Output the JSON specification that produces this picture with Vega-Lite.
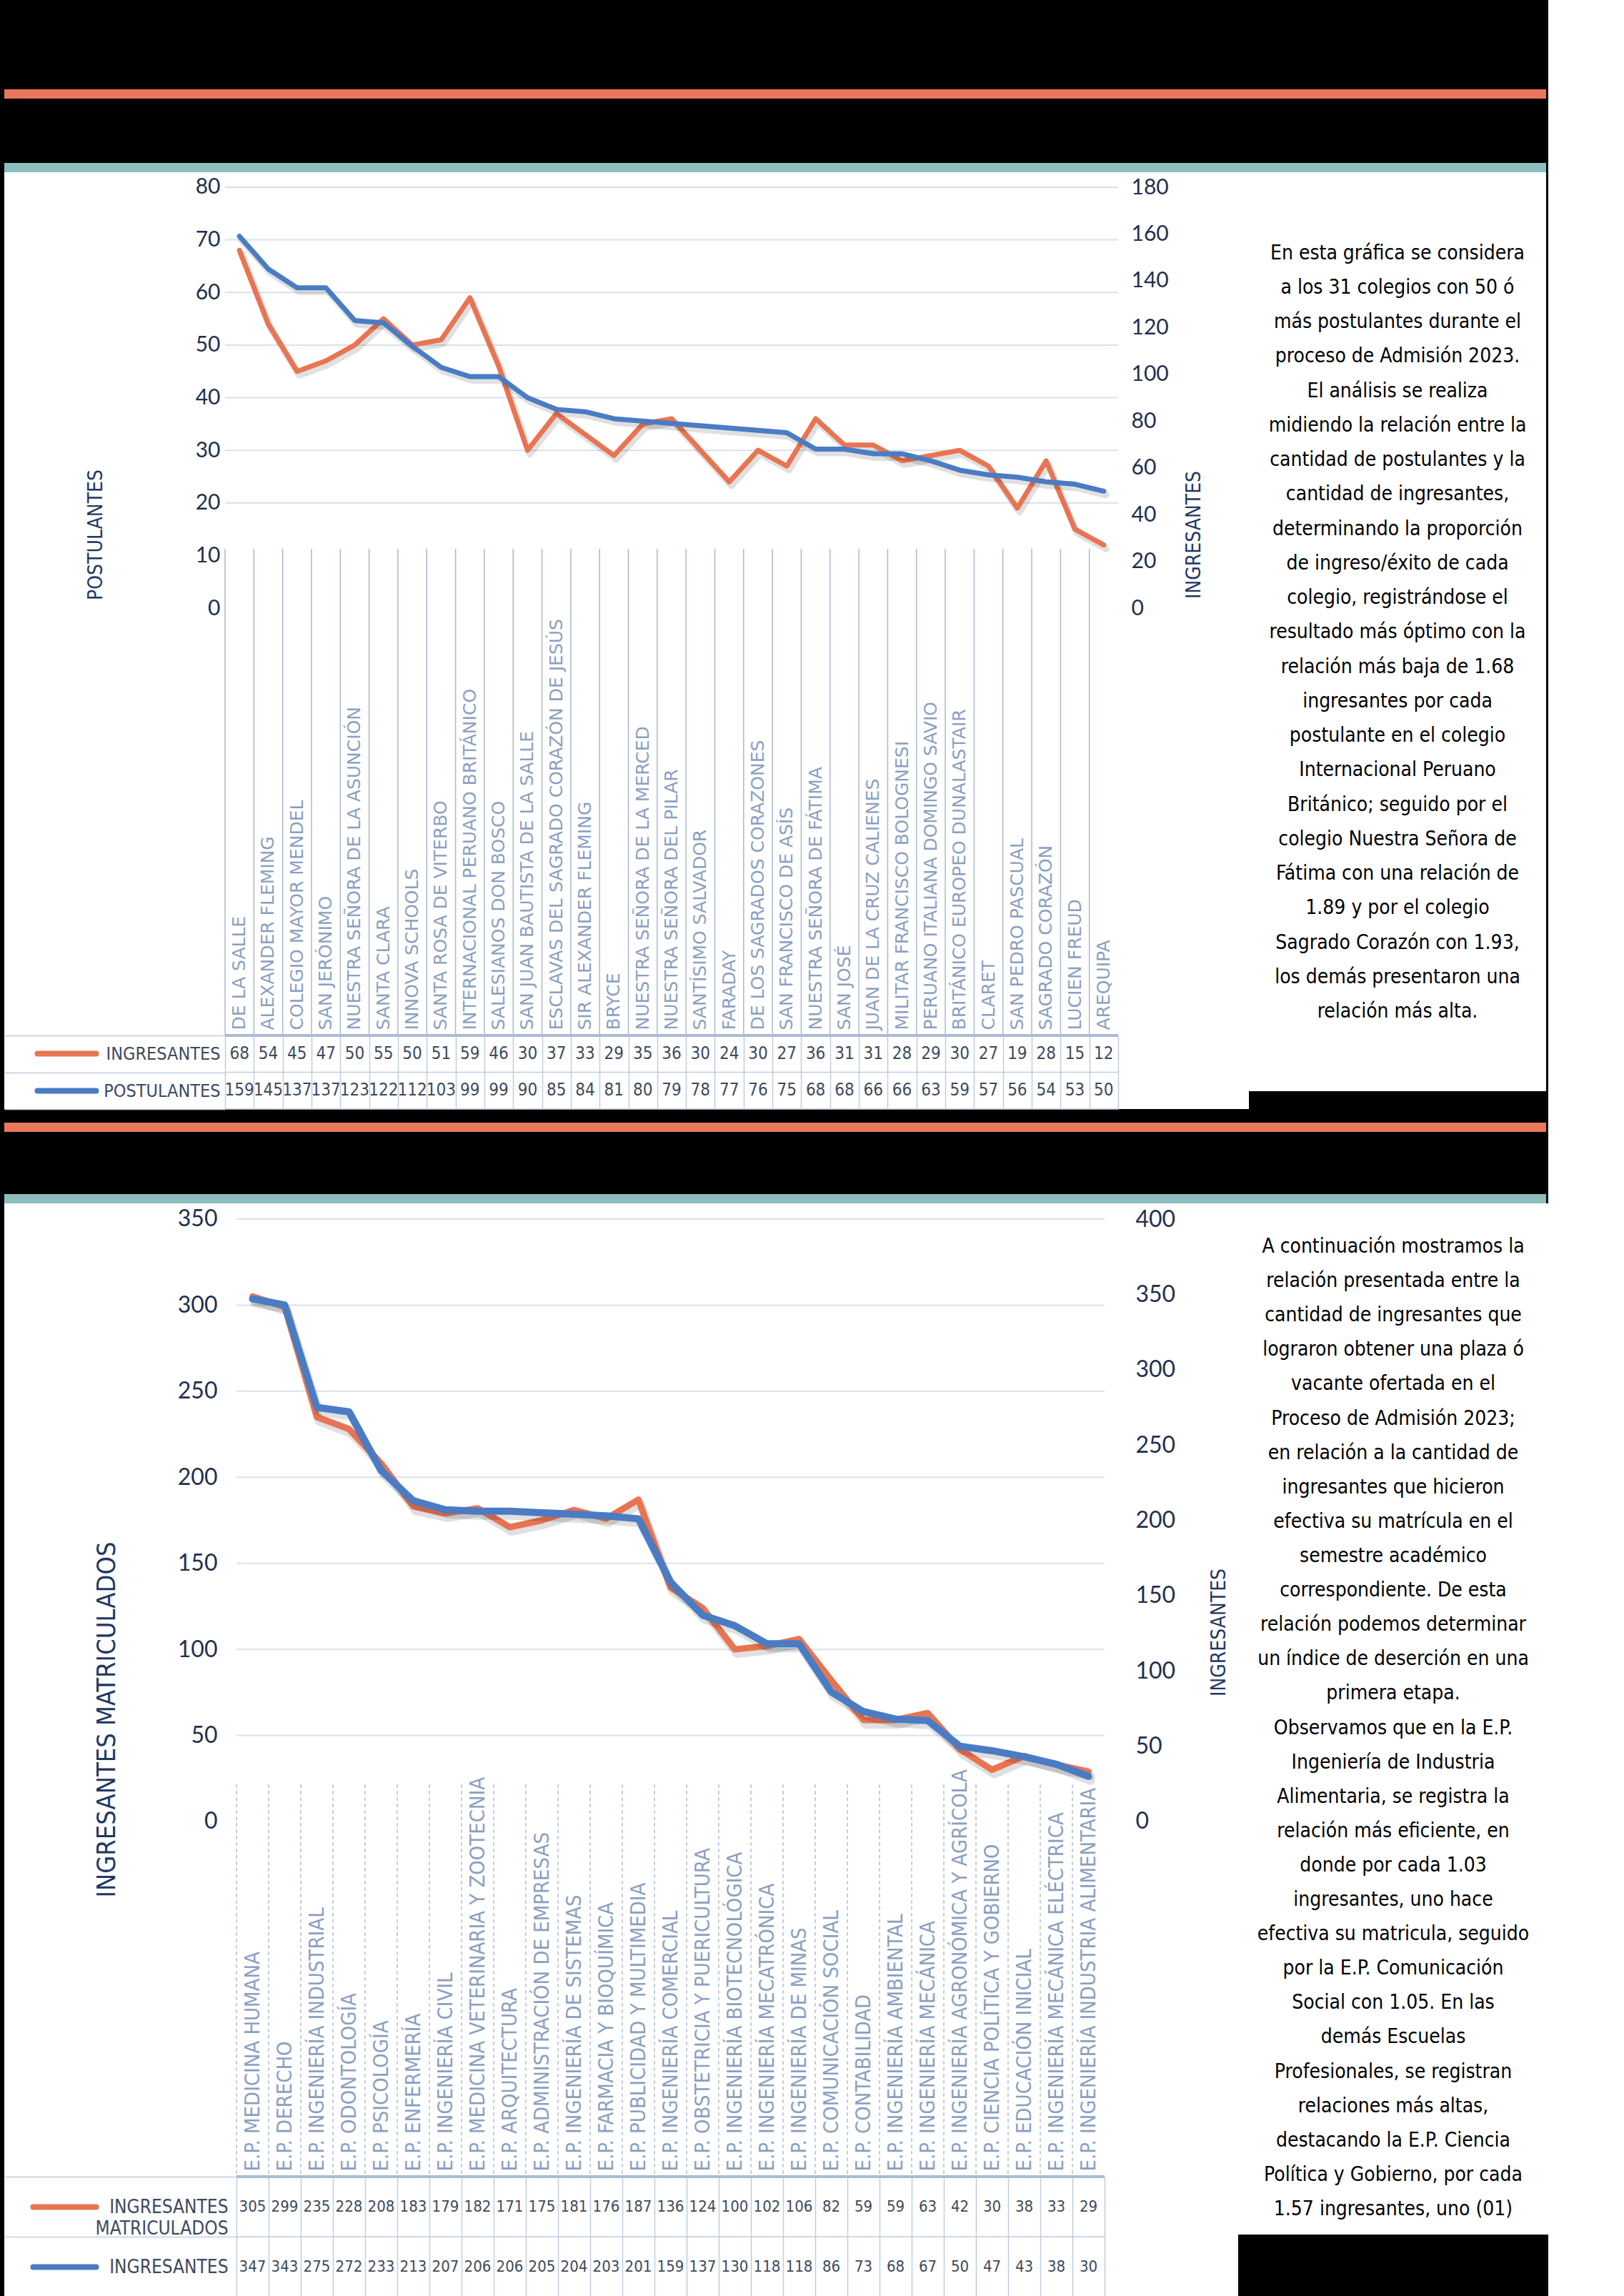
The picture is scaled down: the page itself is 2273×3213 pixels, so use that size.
{
  "$schema": "https://vega.github.io/schema/vega-lite/v6.json",
  "background": "#000000",
  "padding": {"left": 5, "top": 0, "right": 0, "bottom": 0},
  "config": {"view": {"stroke": null}, "concat": {"spacing": 0}, "axis": {"labelFontWeight": "normal"}},
  "datasets": {
    "c1": [
      {"colegio": "DE LA SALLE", "INGRESANTES": 68, "POSTULANTES": 159},
      {"colegio": "ALEXANDER FLEMING", "INGRESANTES": 54, "POSTULANTES": 145},
      {"colegio": "COLEGIO MAYOR MENDEL", "INGRESANTES": 45, "POSTULANTES": 137},
      {"colegio": "SAN JERÓNIMO", "INGRESANTES": 47, "POSTULANTES": 137},
      {"colegio": "NUESTRA SEÑORA DE LA ASUNCIÓN", "INGRESANTES": 50, "POSTULANTES": 123},
      {"colegio": "SANTA CLARA", "INGRESANTES": 55, "POSTULANTES": 122},
      {"colegio": "INNOVA SCHOOLS", "INGRESANTES": 50, "POSTULANTES": 112},
      {"colegio": "SANTA ROSA DE VITERBO", "INGRESANTES": 51, "POSTULANTES": 103},
      {"colegio": "INTERNACIONAL PERUANO BRITÁNICO", "INGRESANTES": 59, "POSTULANTES": 99},
      {"colegio": "SALESIANOS DON BOSCO", "INGRESANTES": 46, "POSTULANTES": 99},
      {"colegio": "SAN JUAN BAUTISTA DE LA SALLE", "INGRESANTES": 30, "POSTULANTES": 90},
      {"colegio": "ESCLAVAS DEL SAGRADO CORAZÓN DE JESÚS", "INGRESANTES": 37, "POSTULANTES": 85},
      {"colegio": "SIR ALEXANDER FLEMING", "INGRESANTES": 33, "POSTULANTES": 84},
      {"colegio": "BRYCE", "INGRESANTES": 29, "POSTULANTES": 81},
      {"colegio": "NUESTRA SEÑORA DE LA MERCED", "INGRESANTES": 35, "POSTULANTES": 80},
      {"colegio": "NUESTRA SEÑORA DEL PILAR", "INGRESANTES": 36, "POSTULANTES": 79},
      {"colegio": "SANTÍSIMO SALVADOR", "INGRESANTES": 30, "POSTULANTES": 78},
      {"colegio": "FARADAY", "INGRESANTES": 24, "POSTULANTES": 77},
      {"colegio": "DE LOS SAGRADOS CORAZONES", "INGRESANTES": 30, "POSTULANTES": 76},
      {"colegio": "SAN FRANCISCO DE ASÍS", "INGRESANTES": 27, "POSTULANTES": 75},
      {"colegio": "NUESTRA SEÑORA DE FÁTIMA", "INGRESANTES": 36, "POSTULANTES": 68},
      {"colegio": "SAN JOSÉ", "INGRESANTES": 31, "POSTULANTES": 68},
      {"colegio": "JUAN DE LA CRUZ CALIENES", "INGRESANTES": 31, "POSTULANTES": 66},
      {"colegio": "MILITAR FRANCISCO BOLOGNESI", "INGRESANTES": 28, "POSTULANTES": 66},
      {"colegio": "PERUANO ITALIANA DOMINGO SAVIO", "INGRESANTES": 29, "POSTULANTES": 63},
      {"colegio": "BRITÁNICO EUROPEO DUNALASTAIR", "INGRESANTES": 30, "POSTULANTES": 59},
      {"colegio": "CLARET", "INGRESANTES": 27, "POSTULANTES": 57},
      {"colegio": "SAN PEDRO PASCUAL", "INGRESANTES": 19, "POSTULANTES": 56},
      {"colegio": "SAGRADO CORAZÓN", "INGRESANTES": 28, "POSTULANTES": 54},
      {"colegio": "LUCIEN FREUD", "INGRESANTES": 15, "POSTULANTES": 53},
      {"colegio": "AREQUIPA", "INGRESANTES": 12, "POSTULANTES": 50}
    ],
    "c2": [
      {"escuela": "E.P. MEDICINA HUMANA", "INGRESANTES MATRICULADOS": 305, "INGRESANTES": 347},
      {"escuela": "E.P. DERECHO", "INGRESANTES MATRICULADOS": 299, "INGRESANTES": 343},
      {"escuela": "E.P. INGENIERÍA INDUSTRIAL", "INGRESANTES MATRICULADOS": 235, "INGRESANTES": 275},
      {"escuela": "E.P. ODONTOLOGÍA", "INGRESANTES MATRICULADOS": 228, "INGRESANTES": 272},
      {"escuela": "E.P. PSICOLOGÍA", "INGRESANTES MATRICULADOS": 208, "INGRESANTES": 233},
      {"escuela": "E.P. ENFERMERÍA", "INGRESANTES MATRICULADOS": 183, "INGRESANTES": 213},
      {"escuela": "E.P. INGENIERÍA CIVIL", "INGRESANTES MATRICULADOS": 179, "INGRESANTES": 207},
      {"escuela": "E.P. MEDICINA VETERINARIA Y ZOOTECNIA", "INGRESANTES MATRICULADOS": 182, "INGRESANTES": 206},
      {"escuela": "E.P. ARQUITECTURA", "INGRESANTES MATRICULADOS": 171, "INGRESANTES": 206},
      {"escuela": "E.P. ADMINISTRACIÓN DE EMPRESAS", "INGRESANTES MATRICULADOS": 175, "INGRESANTES": 205},
      {"escuela": "E.P. INGENIERÍA DE SISTEMAS", "INGRESANTES MATRICULADOS": 181, "INGRESANTES": 204},
      {"escuela": "E.P. FARMACIA Y BIOQUÍMICA", "INGRESANTES MATRICULADOS": 176, "INGRESANTES": 203},
      {"escuela": "E.P. PUBLICIDAD Y MULTIMEDIA", "INGRESANTES MATRICULADOS": 187, "INGRESANTES": 201},
      {"escuela": "E.P. INGENIERÍA COMERCIAL", "INGRESANTES MATRICULADOS": 136, "INGRESANTES": 159},
      {"escuela": "E.P. OBSTETRICIA Y PUERICULTURA", "INGRESANTES MATRICULADOS": 124, "INGRESANTES": 137},
      {"escuela": "E.P. INGENIERÍA BIOTECNOLÓGICA", "INGRESANTES MATRICULADOS": 100, "INGRESANTES": 130},
      {"escuela": "E.P. INGENIERÍA MECATRÓNICA", "INGRESANTES MATRICULADOS": 102, "INGRESANTES": 118},
      {"escuela": "E.P. INGENIERÍA DE MINAS", "INGRESANTES MATRICULADOS": 106, "INGRESANTES": 118},
      {"escuela": "E.P. COMUNICACIÓN SOCIAL", "INGRESANTES MATRICULADOS": 82, "INGRESANTES": 86},
      {"escuela": "E.P. CONTABILIDAD", "INGRESANTES MATRICULADOS": 59, "INGRESANTES": 73},
      {"escuela": "E.P. INGENIERÍA AMBIENTAL", "INGRESANTES MATRICULADOS": 59, "INGRESANTES": 68},
      {"escuela": "E.P. INGENIERÍA MECÁNICA", "INGRESANTES MATRICULADOS": 63, "INGRESANTES": 67},
      {"escuela": "E.P. INGENIERÍA AGRONÓMICA Y AGRÍCOLA", "INGRESANTES MATRICULADOS": 42, "INGRESANTES": 50},
      {"escuela": "E.P. CIENCIA POLÍTICA Y GOBIERNO", "INGRESANTES MATRICULADOS": 30, "INGRESANTES": 47},
      {"escuela": "E.P. EDUCACIÓN INICIAL", "INGRESANTES MATRICULADOS": 38, "INGRESANTES": 43},
      {"escuela": "E.P. INGENIERÍA MECÁNICA ELÉCTRICA", "INGRESANTES MATRICULADOS": 33, "INGRESANTES": 38},
      {"escuela": "E.P. INGENIERÍA INDUSTRIA ALIMENTARIA", "INGRESANTES MATRICULADOS": 29, "INGRESANTES": 30}
    ],
    "t1": [
      {"n": 1, "t": "En esta gráfica se considera"},
      {"n": 2, "t": "a los 31 colegios con 50 ó"},
      {"n": 3, "t": "más postulantes durante el"},
      {"n": 4, "t": "proceso de Admisión 2023."},
      {"n": 5, "t": "El análisis se realiza"},
      {"n": 6, "t": "midiendo la relación entre la"},
      {"n": 7, "t": "cantidad de postulantes y la"},
      {"n": 8, "t": "cantidad de ingresantes,"},
      {"n": 9, "t": "determinando la proporción"},
      {"n": 10, "t": "de ingreso/éxito de cada"},
      {"n": 11, "t": "colegio, registrándose el"},
      {"n": 12, "t": "resultado más óptimo con la"},
      {"n": 13, "t": "relación más baja de 1.68"},
      {"n": 14, "t": "ingresantes por cada"},
      {"n": 15, "t": "postulante en el colegio"},
      {"n": 16, "t": "Internacional Peruano"},
      {"n": 17, "t": "Británico; seguido por el"},
      {"n": 18, "t": "colegio Nuestra Señora de"},
      {"n": 19, "t": "Fátima con una relación de"},
      {"n": 20, "t": "1.89 y por el colegio"},
      {"n": 21, "t": "Sagrado Corazón con 1.93,"},
      {"n": 22, "t": "los demás presentaron una"},
      {"n": 23, "t": "relación más alta."}
    ],
    "t2": [
      {"n": 1, "t": "A continuación mostramos la"},
      {"n": 2, "t": "relación presentada entre la"},
      {"n": 3, "t": "cantidad de ingresantes que"},
      {"n": 4, "t": "lograron obtener una plaza ó"},
      {"n": 5, "t": "vacante ofertada en el"},
      {"n": 6, "t": "Proceso de Admisión 2023;"},
      {"n": 7, "t": "en relación a la cantidad de"},
      {"n": 8, "t": "ingresantes que hicieron"},
      {"n": 9, "t": "efectiva su matrícula en el"},
      {"n": 10, "t": "semestre académico"},
      {"n": 11, "t": "correspondiente. De esta"},
      {"n": 12, "t": "relación podemos determinar"},
      {"n": 13, "t": "un índice de deserción en una"},
      {"n": 14, "t": "primera etapa."},
      {"n": 15, "t": "Observamos que en la E.P."},
      {"n": 16, "t": "Ingeniería de Industria"},
      {"n": 17, "t": "Alimentaria, se registra la"},
      {"n": 18, "t": "relación más eficiente, en"},
      {"n": 19, "t": "donde por cada 1.03"},
      {"n": 20, "t": "ingresantes, uno hace"},
      {"n": 21, "t": "efectiva su matricula, seguido"},
      {"n": 22, "t": "por la E.P. Comunicación"},
      {"n": 23, "t": "Social con 1.05. En las"},
      {"n": 24, "t": "demás Escuelas"},
      {"n": 25, "t": "Profesionales, se registran"},
      {"n": 26, "t": "relaciones más altas,"},
      {"n": 27, "t": "destacando la E.P. Ciencia"},
      {"n": 28, "t": "Política y Gobierno, por cada"},
      {"n": 29, "t": "1.57 ingresantes, uno (01)"}
    ]
  },
  "spacing": 0,
  "vconcat": [
    {"width": 2158, "height": 125, "data": {"values": []}, "mark": "text", "encoding": {}},
    {"width": 2158, "height": 13, "view": {"fill": "#E8775C", "stroke": null}, "data": {"values": []}, "mark": "text", "encoding": {}},
    {"width": 2158, "height": 90, "data": {"values": []}, "mark": "text", "encoding": {}},
    {"width": 2158, "height": 13, "view": {"fill": "#8DBFBE", "stroke": null}, "data": {"values": []}, "mark": "text", "encoding": {}},
    {
      "spacing": 0,
      "hconcat": [
        {
          "spacing": 0, "bounds": "flush",
          "vconcat": [
            {
              "width": 1742, "height": 1208,
              "view": {"fill": "#FFFFFF", "stroke": null},
              "data": {"name": "c1"},
              "encoding": {
                "x": {"field": "colegio", "type": "nominal", "sort": null,
                  "scale": {"type": "band", "domain": ["DE LA SALLE", "ALEXANDER FLEMING", "COLEGIO MAYOR MENDEL", "SAN JERÓNIMO", "NUESTRA SEÑORA DE LA ASUNCIÓN", "SANTA CLARA", "INNOVA SCHOOLS", "SANTA ROSA DE VITERBO", "INTERNACIONAL PERUANO BRITÁNICO", "SALESIANOS DON BOSCO", "SAN JUAN BAUTISTA DE LA SALLE", "ESCLAVAS DEL SAGRADO CORAZÓN DE JESÚS", "SIR ALEXANDER FLEMING", "BRYCE", "NUESTRA SEÑORA DE LA MERCED", "NUESTRA SEÑORA DEL PILAR", "SANTÍSIMO SALVADOR", "FARADAY", "DE LOS SAGRADOS CORAZONES", "SAN FRANCISCO DE ASÍS", "NUESTRA SEÑORA DE FÁTIMA", "SAN JOSÉ", "JUAN DE LA CRUZ CALIENES", "MILITAR FRANCISCO BOLOGNESI", "PERUANO ITALIANA DOMINGO SAVIO", "BRITÁNICO EUROPEO DUNALASTAIR", "CLARET", "SAN PEDRO PASCUAL", "SAGRADO CORAZÓN", "LUCIEN FREUD", "AREQUIPA"], "range": [309, 1559], "paddingInner": 0, "paddingOuter": 0, "round": false},
                  "axis": {"title": null, "orient": "bottom", "domain": false, "ticks": false, "grid": false, "labelAngle": 270, "labelAlign": "left", "labelBaseline": "middle", "labelPadding": -8, "labelLimit": 0, "labelOverlap": false, "labelFont": "DejaVu Sans", "labelFontSize": 25, "labelColor": "#8AA0C2"}
                }
              },
              "layer": [
                {
                  "layer": [
                    {
                      "data": {"values": [{"g": 20}, {"g": 30}, {"g": 40}, {"g": 50}, {"g": 60}, {"g": 70}, {"g": 80}]},
                      "mark": {"type": "rule", "color": "#D9E1EC", "strokeWidth": 2},
                      "encoding": {
                        "x": {"datum": "DE LA SALLE", "type": "nominal", "bandPosition": 0},
                        "x2": {"datum": "AREQUIPA", "bandPosition": 1},
                        "y": {"field": "g", "type": "quantitative"}
                      }
                    },
                    {
                      "mark": {"type": "rule", "color": "#A9B9CF", "strokeWidth": 1.5},
                      "encoding": {
                        "x": {"field": "colegio", "type": "nominal", "bandPosition": 0},
                        "y": {"datum": 11.27},
                        "y2": {"datum": -81.22}
                      }
                    },
                    {
                      "mark": {"type": "line", "color": "#000000", "opacity": 0.12, "strokeWidth": 10, "xOffset": 3, "yOffset": 5, "strokeJoin": "round", "strokeCap": "round"},
                      "encoding": {"y": {"field": "INGRESANTES", "type": "quantitative"}}
                    },
                    {
                      "mark": {"type": "line", "color": "#E97452", "strokeWidth": 7, "strokeJoin": "round", "strokeCap": "round"},
                      "encoding": {
                        "y": {"field": "INGRESANTES", "type": "quantitative",
                          "scale": {"domain": [-81.22, 82.852], "nice": false, "zero": false},
                          "axis": {"orient": "left", "offset": -309, "values": [0, 10, 20, 30, 40, 50, 60, 70, 80], "grid": false, "domain": false, "ticks": false, "tickSize": 0, "labelPadding": 7, "labelFont": "Lato", "labelFontSize": 30, "labelColor": "#1F2F4F", "title": "POSTULANTES", "titleFont": "Liberation Sans Narrow, DejaVu Sans Condensed, sans-serif", "titleFontSize": 28, "titleFontWeight": "normal", "titleColor": "#1F3864", "titleAngle": 270, "titleAlign": "center", "titleBaseline": "middle", "titleX": -181, "titleY": 507}
                        }
                      }
                    }
                  ]
                },
                {
                  "layer": [
                    {
                      "mark": {"type": "line", "color": "#000000", "opacity": 0.12, "strokeWidth": 10, "xOffset": 3, "yOffset": 5, "strokeJoin": "round", "strokeCap": "round"},
                      "encoding": {"y": {"field": "POSTULANTES", "type": "quantitative"}}
                    },
                    {
                      "mark": {"type": "line", "color": "#4A7CC4", "strokeWidth": 7, "strokeJoin": "round", "strokeCap": "round"},
                      "encoding": {
                        "y": {"field": "POSTULANTES", "type": "quantitative",
                          "scale": {"domain": [-182.75, 186.42], "nice": false, "zero": false},
                          "axis": {"orient": "right", "offset": -183, "values": [0, 20, 40, 60, 80, 100, 120, 140, 160, 180], "grid": false, "domain": false, "ticks": false, "tickSize": 0, "labelPadding": 18, "labelFont": "Lato", "labelFontSize": 30, "labelColor": "#1F2F4F", "title": "INGRESANTES", "titleFont": "Liberation Sans Narrow, DejaVu Sans Condensed, sans-serif", "titleFontSize": 28, "titleFontWeight": "normal", "titleColor": "#1F3864", "titleAngle": 270, "titleAlign": "center", "titleBaseline": "middle", "titleX": 106, "titleY": 507}
                        }
                      }
                    }
                  ]
                }
              ],
              "resolve": {"scale": {"y": "independent"}, "axis": {"y": "independent"}}
            },
            {
              "width": 1742, "height": 103,
              "view": {"fill": "#FFFFFF", "stroke": null},
              "data": {"name": "c1"},
              "encoding": {
                "x": {"field": "colegio", "type": "nominal", "sort": null,
                  "scale": {"type": "band", "domain": ["DE LA SALLE", "ALEXANDER FLEMING", "COLEGIO MAYOR MENDEL", "SAN JERÓNIMO", "NUESTRA SEÑORA DE LA ASUNCIÓN", "SANTA CLARA", "INNOVA SCHOOLS", "SANTA ROSA DE VITERBO", "INTERNACIONAL PERUANO BRITÁNICO", "SALESIANOS DON BOSCO", "SAN JUAN BAUTISTA DE LA SALLE", "ESCLAVAS DEL SAGRADO CORAZÓN DE JESÚS", "SIR ALEXANDER FLEMING", "BRYCE", "NUESTRA SEÑORA DE LA MERCED", "NUESTRA SEÑORA DEL PILAR", "SANTÍSIMO SALVADOR", "FARADAY", "DE LOS SAGRADOS CORAZONES", "SAN FRANCISCO DE ASÍS", "NUESTRA SEÑORA DE FÁTIMA", "SAN JOSÉ", "JUAN DE LA CRUZ CALIENES", "MILITAR FRANCISCO BOLOGNESI", "PERUANO ITALIANA DOMINGO SAVIO", "BRITÁNICO EUROPEO DUNALASTAIR", "CLARET", "SAN PEDRO PASCUAL", "SAGRADO CORAZÓN", "LUCIEN FREUD", "AREQUIPA"], "range": [309, 1559], "paddingInner": 0, "paddingOuter": 0, "round": false},
                  "axis": {"title": null, "labels": false, "ticks": false, "domain": false, "grid": true, "tickBand": "extent", "gridColor": "#BFCDE0", "gridWidth": 1.5}
                }
              },
              "layer": [
                {
                  "layer": [
                    {
                      "transform": [{"fold": ["INGRESANTES", "POSTULANTES"], "as": ["serie", "valor"]}],
                      "mark": {"type": "text", "font": "Liberation Sans Narrow, DejaVu Sans Condensed, sans-serif", "fontSize": 24, "color": "#3E4A5E", "baseline": "middle", "align": "center"},
                      "encoding": {
                        "y": {"field": "serie", "type": "nominal",
                          "scale": {"type": "band", "domain": ["INGRESANTES", "POSTULANTES"], "paddingInner": 0, "paddingOuter": 0, "round": false},
                          "axis": {"orient": "left", "offset": -309, "title": null, "domain": false, "grid": false, "ticks": true, "tickBand": "extent", "tickSize": 309, "tickColor": "#BFCDE0", "tickWidth": 1.5, "labelPadding": -302, "labelAlign": "right", "labelBaseline": "middle", "labelFont": "Liberation Sans Narrow, DejaVu Sans Condensed, sans-serif", "labelFontSize": 25, "labelColor": "#3E4A5E", "labelLimit": 0}
                        },
                        "text": {"field": "valor", "type": "quantitative"}
                      }
                    },
                    {
                      "data": {"values": [{}]},
                      "mark": {"type": "rule", "color": "#A9BBD6", "strokeWidth": 4},
                      "encoding": {
                        "x": {"datum": "DE LA SALLE", "type": "nominal", "bandPosition": 0},
                        "x2": {"datum": "AREQUIPA", "bandPosition": 1},
                        "y": {"datum": "INGRESANTES", "type": "nominal", "bandPosition": 0}
                      }
                    },
                    {
                      "data": {"values": [{}]},
                      "mark": {"type": "rule", "color": "#BFCDE0", "strokeWidth": 1.5},
                      "encoding": {
                        "x": {"datum": "DE LA SALLE", "type": "nominal", "bandPosition": 0},
                        "x2": {"datum": "AREQUIPA", "bandPosition": 1},
                        "y": {"datum": "INGRESANTES", "type": "nominal", "bandPosition": 1}
                      }
                    },
                    {
                      "data": {"values": [{}]},
                      "mark": {"type": "rule", "color": "#BFCDE0", "strokeWidth": 1.5},
                      "encoding": {
                        "x": {"datum": "DE LA SALLE", "type": "nominal", "bandPosition": 0},
                        "x2": {"datum": "AREQUIPA", "bandPosition": 1},
                        "y": {"datum": "POSTULANTES", "type": "nominal", "bandPosition": 1}
                      }
                    }
                  ]
                },
                {
                  "transform": [{"fold": ["INGRESANTES", "POSTULANTES"], "as": ["serie", "valor"]}],
                  "mark": {"type": "text", "opacity": 0},
                  "encoding": {
                    "y": {"field": "serie", "type": "nominal",
                      "scale": {"type": "band", "domain": ["INGRESANTES", "POSTULANTES"], "paddingInner": 0, "paddingOuter": 0, "round": false},
                      "axis": {"orient": "left", "offset": -128, "title": null, "domain": false, "grid": false, "labels": false, "ticks": true, "tickSize": 82, "tickWidth": 8, "tickCap": "round", "tickColor": {"condition": {"test": "datum.value === 'INGRESANTES'", "value": "#E97452"}, "value": "#4A7CC4"}}
                    },
                    "text": {"field": "valor", "type": "quantitative"}
                  }
                }
              ],
              "resolve": {"scale": {"y": "independent"}, "axis": {"y": "independent"}}
            }
          ]
        },
        {
          "width": 416, "height": 1286,
          "view": {"fill": "#FFFFFF", "stroke": null},
          "data": {"name": "t1"},
          "mark": {"type": "text", "font": "Liberation Sans Narrow, DejaVu Sans Condensed, sans-serif", "fontSize": 28, "color": "#000000", "align": "center", "baseline": "middle"},
          "encoding": {
            "y": {"field": "n", "type": "ordinal", "scale": {"type": "point", "range": [113.6, 1175], "padding": 0, "round": false}, "axis": null},
            "text": {"field": "t", "type": "nominal"}
          }
        }
      ]
    },
    {"width": 2158, "height": 18, "data": {"values": []}, "mark": "text", "encoding": {}},
    {"width": 2158, "height": 13, "view": {"fill": "#E8775C", "stroke": null}, "data": {"values": []}, "mark": "text", "encoding": {}},
    {"width": 2158, "height": 87, "data": {"values": []}, "mark": "text", "encoding": {}},
    {"width": 2158, "height": 13, "view": {"fill": "#8DBFBE", "stroke": null}, "data": {"values": []}, "mark": "text", "encoding": {}},
    {
      "spacing": 0,
      "hconcat": [
        {
          "spacing": 0, "bounds": "flush",
          "vconcat": [
            {
              "width": 1727, "height": 1362,
              "view": {"fill": "#FFFFFF", "stroke": null},
              "data": {"name": "c2"},
              "encoding": {
                "x": {"field": "escuela", "type": "nominal", "sort": null,
                  "scale": {"type": "band", "domain": ["E.P. MEDICINA HUMANA", "E.P. DERECHO", "E.P. INGENIERÍA INDUSTRIAL", "E.P. ODONTOLOGÍA", "E.P. PSICOLOGÍA", "E.P. ENFERMERÍA", "E.P. INGENIERÍA CIVIL", "E.P. MEDICINA VETERINARIA Y ZOOTECNIA", "E.P. ARQUITECTURA", "E.P. ADMINISTRACIÓN DE EMPRESAS", "E.P. INGENIERÍA DE SISTEMAS", "E.P. FARMACIA Y BIOQUÍMICA", "E.P. PUBLICIDAD Y MULTIMEDIA", "E.P. INGENIERÍA COMERCIAL", "E.P. OBSTETRICIA Y PUERICULTURA", "E.P. INGENIERÍA BIOTECNOLÓGICA", "E.P. INGENIERÍA MECATRÓNICA", "E.P. INGENIERÍA DE MINAS", "E.P. COMUNICACIÓN SOCIAL", "E.P. CONTABILIDAD", "E.P. INGENIERÍA AMBIENTAL", "E.P. INGENIERÍA MECÁNICA", "E.P. INGENIERÍA AGRONÓMICA Y AGRÍCOLA", "E.P. CIENCIA POLÍTICA Y GOBIERNO", "E.P. EDUCACIÓN INICIAL", "E.P. INGENIERÍA MECÁNICA ELÉCTRICA", "E.P. INGENIERÍA INDUSTRIA ALIMENTARIA"], "range": [325, 1540], "paddingInner": 0, "paddingOuter": 0, "round": false},
                  "axis": {"title": null, "orient": "bottom", "domain": false, "ticks": false, "grid": false, "labelAngle": 270, "labelAlign": "left", "labelBaseline": "middle", "labelPadding": -8, "labelLimit": 0, "labelOverlap": false, "labelFont": "Liberation Sans Narrow, DejaVu Sans Condensed, sans-serif", "labelFontSize": 29, "labelColor": "#8AA0C2"}
                }
              },
              "layer": [
                {
                  "layer": [
                    {
                      "data": {"values": [{"g": 50}, {"g": 100}, {"g": 150}, {"g": 200}, {"g": 250}, {"g": 300}, {"g": 350}]},
                      "mark": {"type": "rule", "color": "#D9E1EC", "strokeWidth": 2},
                      "encoding": {
                        "x": {"datum": "E.P. MEDICINA HUMANA", "type": "nominal", "bandPosition": 0},
                        "x2": {"datum": "E.P. INGENIERÍA INDUSTRIA ALIMENTARIA", "bandPosition": 1},
                        "y": {"field": "g", "type": "quantitative"}
                      }
                    },
                    {
                      "mark": {"type": "rule", "color": "#AFC0D6", "strokeWidth": 1.5, "strokeDash": [5, 4]},
                      "encoding": {
                        "x": {"field": "escuela", "type": "nominal", "bandPosition": 0},
                        "y": {"datum": 21.6},
                        "y2": {"datum": -206.35}
                      }
                    },
                    {
                      "mark": {"type": "line", "color": "#000000", "opacity": 0.12, "strokeWidth": 12, "xOffset": 3, "yOffset": 6, "strokeJoin": "round", "strokeCap": "round"},
                      "encoding": {"y": {"field": "INGRESANTES MATRICULADOS", "type": "quantitative"}}
                    },
                    {
                      "mark": {"type": "line", "color": "#E97452", "strokeWidth": 9, "strokeJoin": "round", "strokeCap": "round"},
                      "encoding": {
                        "y": {"field": "INGRESANTES MATRICULADOS", "type": "quantitative",
                          "scale": {"domain": [-206.35, 359.13], "nice": false, "zero": false},
                          "axis": {"orient": "left", "offset": -325, "values": [0, 50, 100, 150, 200, 250, 300, 350], "grid": false, "domain": false, "ticks": false, "tickSize": 0, "labelPadding": 27, "labelFont": "Lato", "labelFontSize": 32, "labelColor": "#1F2F4F", "title": "INGRESANTES MATRICULADOS", "titleFont": "Liberation Sans Narrow, DejaVu Sans Condensed, sans-serif", "titleFontSize": 36, "titleFontWeight": "normal", "titleColor": "#1F3864", "titleAngle": 270, "titleAlign": "center", "titleBaseline": "middle", "titleX": -182, "titleY": 722}
                        }
                      }
                    }
                  ]
                },
                {
                  "layer": [
                    {
                      "mark": {"type": "line", "color": "#000000", "opacity": 0.12, "strokeWidth": 12, "xOffset": 3, "yOffset": 6, "strokeJoin": "round", "strokeCap": "round"},
                      "encoding": {"y": {"field": "INGRESANTES", "type": "quantitative"}}
                    },
                    {
                      "mark": {"type": "line", "color": "#4A7CC4", "strokeWidth": 10, "strokeJoin": "round", "strokeCap": "round"},
                      "encoding": {
                        "y": {"field": "INGRESANTES", "type": "quantitative",
                          "scale": {"domain": [-235.83, 410.44], "nice": false, "zero": false},
                          "axis": {"orient": "right", "offset": -187, "values": [0, 50, 100, 150, 200, 250, 300, 350, 400], "grid": false, "domain": false, "ticks": false, "tickSize": 0, "labelPadding": 43, "labelFont": "Lato", "labelFontSize": 32, "labelColor": "#1F2F4F", "title": "INGRESANTES", "titleFont": "Liberation Sans Narrow, DejaVu Sans Condensed, sans-serif", "titleFontSize": 28, "titleFontWeight": "normal", "titleColor": "#1F3864", "titleAngle": 270, "titleAlign": "center", "titleBaseline": "middle", "titleX": 160, "titleY": 600}
                        }
                      }
                    }
                  ]
                }
              ],
              "resolve": {"scale": {"y": "independent"}, "axis": {"y": "independent"}}
            },
            {
              "width": 1727, "height": 168,
              "view": {"fill": "#FFFFFF", "stroke": null},
              "data": {"name": "c2"},
              "encoding": {
                "x": {"field": "escuela", "type": "nominal", "sort": null,
                  "scale": {"type": "band", "domain": ["E.P. MEDICINA HUMANA", "E.P. DERECHO", "E.P. INGENIERÍA INDUSTRIAL", "E.P. ODONTOLOGÍA", "E.P. PSICOLOGÍA", "E.P. ENFERMERÍA", "E.P. INGENIERÍA CIVIL", "E.P. MEDICINA VETERINARIA Y ZOOTECNIA", "E.P. ARQUITECTURA", "E.P. ADMINISTRACIÓN DE EMPRESAS", "E.P. INGENIERÍA DE SISTEMAS", "E.P. FARMACIA Y BIOQUÍMICA", "E.P. PUBLICIDAD Y MULTIMEDIA", "E.P. INGENIERÍA COMERCIAL", "E.P. OBSTETRICIA Y PUERICULTURA", "E.P. INGENIERÍA BIOTECNOLÓGICA", "E.P. INGENIERÍA MECATRÓNICA", "E.P. INGENIERÍA DE MINAS", "E.P. COMUNICACIÓN SOCIAL", "E.P. CONTABILIDAD", "E.P. INGENIERÍA AMBIENTAL", "E.P. INGENIERÍA MECÁNICA", "E.P. INGENIERÍA AGRONÓMICA Y AGRÍCOLA", "E.P. CIENCIA POLÍTICA Y GOBIERNO", "E.P. EDUCACIÓN INICIAL", "E.P. INGENIERÍA MECÁNICA ELÉCTRICA", "E.P. INGENIERÍA INDUSTRIA ALIMENTARIA"], "range": [325, 1540], "paddingInner": 0, "paddingOuter": 0, "round": false},
                  "axis": {"title": null, "labels": false, "ticks": false, "domain": false, "grid": true, "tickBand": "extent", "gridColor": "#BFCDE0", "gridWidth": 1.5}
                }
              },
              "layer": [
                {
                  "layer": [
                    {
                      "transform": [{"fold": ["INGRESANTES MATRICULADOS", "INGRESANTES"], "as": ["serie", "valor"]}],
                      "mark": {"type": "text", "font": "Liberation Sans Narrow, DejaVu Sans Condensed, sans-serif", "fontSize": 22, "color": "#3E4A5E", "baseline": "middle", "align": "center"},
                      "encoding": {
                        "y": {"field": "serie", "type": "nominal",
                          "scale": {"type": "band", "domain": ["INGRESANTES MATRICULADOS", "INGRESANTES"], "paddingInner": 0, "paddingOuter": 0, "round": false},
                          "axis": {"orient": "left", "offset": -325, "title": null, "domain": false, "grid": false, "ticks": true, "tickBand": "extent", "tickSize": 325, "tickColor": "#BFCDE0", "tickWidth": 1.5, "labelPadding": -313, "labelAlign": "right", "labelBaseline": "middle", "labelFont": "Liberation Sans Narrow, DejaVu Sans Condensed, sans-serif", "labelFontSize": 26, "labelLineHeight": 30, "labelColor": "#3E4A5E", "labelLimit": 0, "labelExpr": "datum.value === 'INGRESANTES MATRICULADOS' ? ['INGRESANTES', 'MATRICULADOS'] : datum.label"}
                        },
                        "text": {"field": "valor", "type": "quantitative"}
                      }
                    },
                    {
                      "data": {"values": [{}]},
                      "mark": {"type": "rule", "color": "#A9BBD6", "strokeWidth": 4},
                      "encoding": {
                        "x": {"datum": "E.P. MEDICINA HUMANA", "type": "nominal", "bandPosition": 0},
                        "x2": {"datum": "E.P. INGENIERÍA INDUSTRIA ALIMENTARIA", "bandPosition": 1},
                        "y": {"datum": "INGRESANTES MATRICULADOS", "type": "nominal", "bandPosition": 0}
                      }
                    },
                    {
                      "data": {"values": [{}]},
                      "mark": {"type": "rule", "color": "#BFCDE0", "strokeWidth": 1.5},
                      "encoding": {
                        "x": {"datum": "E.P. MEDICINA HUMANA", "type": "nominal", "bandPosition": 0},
                        "x2": {"datum": "E.P. INGENIERÍA INDUSTRIA ALIMENTARIA", "bandPosition": 1},
                        "y": {"datum": "INGRESANTES MATRICULADOS", "type": "nominal", "bandPosition": 1}
                      }
                    },
                    {
                      "data": {"values": [{}]},
                      "mark": {"type": "rule", "color": "#BFCDE0", "strokeWidth": 1.5},
                      "encoding": {
                        "x": {"datum": "E.P. MEDICINA HUMANA", "type": "nominal", "bandPosition": 0},
                        "x2": {"datum": "E.P. INGENIERÍA INDUSTRIA ALIMENTARIA", "bandPosition": 1},
                        "y": {"datum": "INGRESANTES", "type": "nominal", "bandPosition": 1}
                      }
                    }
                  ]
                },
                {
                  "transform": [{"fold": ["INGRESANTES MATRICULADOS", "INGRESANTES"], "as": ["serie", "valor"]}],
                  "mark": {"type": "text", "opacity": 0},
                  "encoding": {
                    "y": {"field": "serie", "type": "nominal",
                      "scale": {"type": "band", "domain": ["INGRESANTES MATRICULADOS", "INGRESANTES"], "paddingInner": 0, "paddingOuter": 0, "round": false},
                      "axis": {"orient": "left", "offset": -128, "title": null, "domain": false, "grid": false, "labels": false, "ticks": true, "tickSize": 88, "tickWidth": 8, "tickCap": "round", "tickColor": {"condition": {"test": "datum.value === 'INGRESANTES MATRICULADOS'", "value": "#E97452"}, "value": "#4A7CC4"}}
                    },
                    "text": {"field": "valor", "type": "quantitative"}
                  }
                }
              ],
              "resolve": {"scale": {"y": "independent"}, "axis": {"y": "independent"}}
            }
          ]
        },
        {
          "width": 434, "height": 1443,
          "view": {"fill": "#FFFFFF", "stroke": null},
          "data": {"name": "t2"},
          "mark": {"type": "text", "font": "Liberation Sans Narrow, DejaVu Sans Condensed, sans-serif", "fontSize": 28, "color": "#000000", "align": "center", "baseline": "middle"},
          "encoding": {
            "y": {"field": "n", "type": "ordinal", "scale": {"type": "point", "range": [61, 1408], "padding": 0, "round": false}, "axis": null},
            "text": {"field": "t", "type": "nominal"}
          }
        }
      ]
    }
  ]
}
